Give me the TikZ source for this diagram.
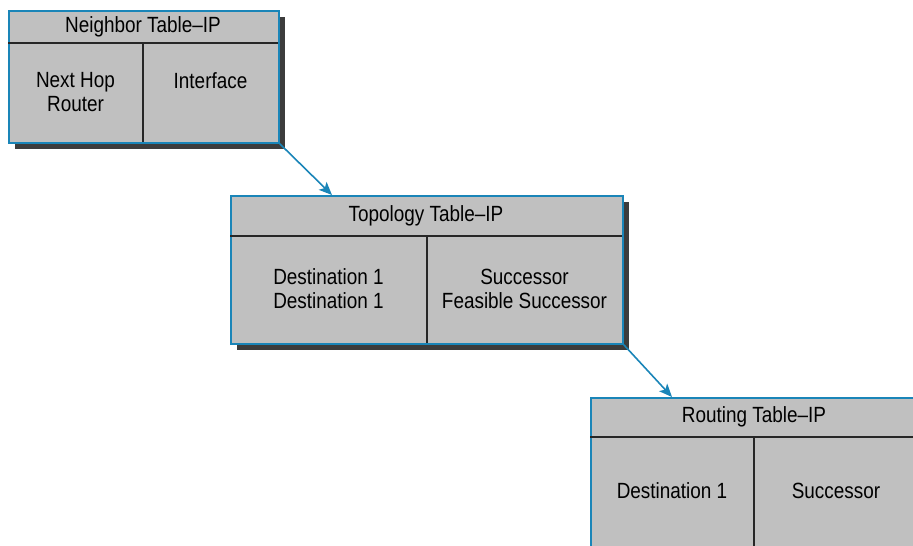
\documentclass[tikz,border=0pt]{standalone}
\usepackage{fontspec}
\setmainfont{Liberation Sans}[FakeStretch=0.86]
\usetikzlibrary{positioning, shadows, arrows.meta}

\definecolor{tblblue}{HTML}{1A85B8}
\definecolor{tblgray}{HTML}{C0C0C0}
\definecolor{tblshadow}{HTML}{3C3C3C}

\begin{document}
\begin{tikzpicture}[
  x=1pt, y=-1pt,
  tbl/.style={rectangle, draw=tblblue, line width=1.8pt, fill=tblgray, anchor=north west,
    drop shadow={shadow xshift=6pt, shadow yshift=-6pt, fill=tblshadow, opacity=1}},
  rule/.style={draw=black!85, line width=1.2pt},
  txt/.style={draw=none, font=\fontsize{22}{24}\selectfont, align=center, text=black},
  flow/.style={draw=tblblue, line width=1.6pt, -{Stealth[length=13pt, width=11pt, inset=3pt]}}
]
  \clip (0,0) rectangle (913,546);

  % neighbor table
  \node[tbl, minimum width=270pt, minimum height=132pt] (nbr) at (8,10) {};
  \draw[rule] (8,43) -- (278,43) (143,43) -- (143,142);
  \node[txt] (nbrtitle) at (143,27) {Neighbor Table–IP};
  \node[txt] (nbrhop) at (75.5,92) {Next Hop\\Router};
  \node[txt] (nbrif) at (210.5,80.5) {Interface};

  % topology table
  \node[tbl, minimum width=392pt, minimum height=148pt] (topo) at (230,195) {};
  \draw[rule] (230,236) -- (622,236) (427,236) -- (427,343);
  \node[txt] (topotitle) at (426,216) {Topology Table–IP};
  \node[txt] (topodest) at (328.5,289) {Destination 1\\Destination 1};
  \node[txt] (toposucc) at (524.5,289) {Successor\\Feasible Successor};

  % routing table
  \node[tbl, minimum width=328pt, minimum height=160pt] (rte) at (590,397) {};
  \draw[rule] (590,437) -- (918,437) (754,437) -- (754,557);
  \node[txt] (rtetitle) at (754,417) {Routing Table–IP};
  \node[txt] (rtedest) at (672,491) {Destination 1};
  \node[txt] (rtesucc) at (836,491) {Successor};

  \coordinate (topoin) at (332,195);
  \coordinate (rtein) at (672,397);
  \draw[flow] (nbr.south east) -- (topoin);
  \draw[flow] (topo.south east) -- (rtein);
\end{tikzpicture}
\end{document}
